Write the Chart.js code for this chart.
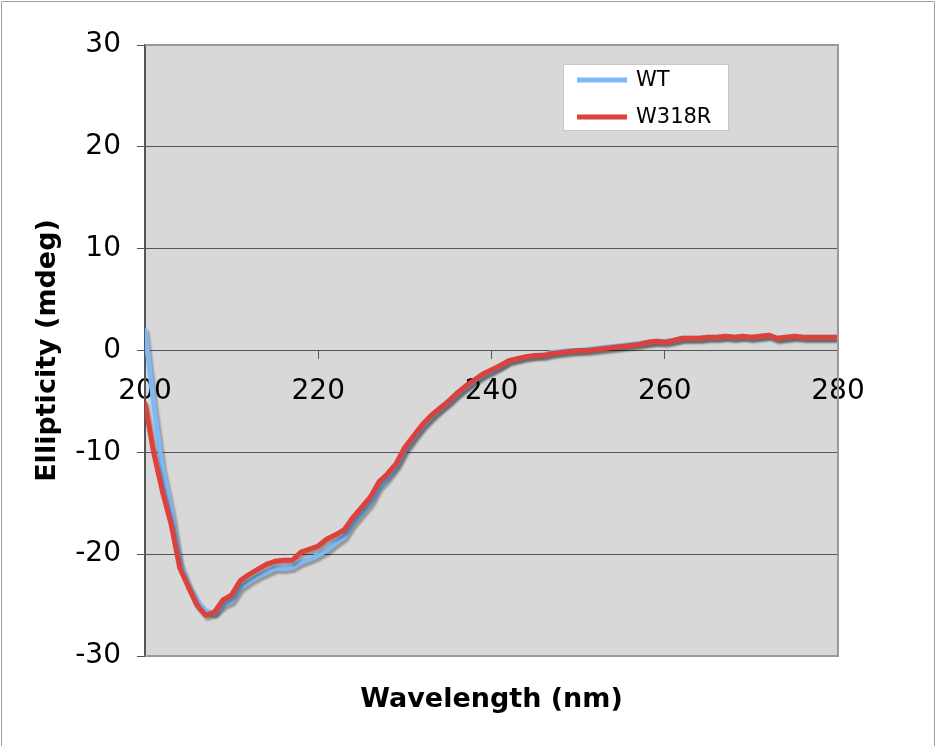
<!DOCTYPE html>
<html>
<head>
<meta charset="utf-8">
<script src="https://cdn.jsdelivr.net/npm/chart.js@4.4.1/dist/chart.umd.min.js"></script>
<style>
  body { margin: 0; background: #fff; }
  #cd { display: block; }
</style>
</head>
<body>
<canvas id="cd" width="936" height="746"></canvas>
<script>
// wavelengths, 1 nm steps
const wavelengths = [];
for (let w = 200; w <= 280; w++) wavelengths.push(w);

const wtValues = [
  2.0, -5.2, -11.5, -15.5, -20.8, -23.0, -24.6, -25.6, -25.8, -25.0,
  -24.6, -23.3, -22.7, -22.2, -21.8, -21.4, -21.4, -21.3, -20.8, -20.5,
  -20.1, -19.6, -18.9, -18.3, -17.0, -16.0, -15.0, -13.4, -12.5, -11.4,
  -9.8, -8.6, -7.5, -6.6, -5.8, -5.1, -4.3, -3.6, -3.0, -2.4,
  -2.0, -1.5, -1.0, -0.8, -0.6, -0.5, -0.4, -0.2, -0.1, 0.0,
  0.0, 0.1, 0.2, 0.3, 0.4, 0.5, 0.6, 0.7, 0.8, 0.9,
  0.9, 1.0, 1.2, 1.2, 1.2, 1.3, 1.3, 1.4, 1.3, 1.4,
  1.3, 1.4, 1.5, 1.2, 1.3, 1.4, 1.3, 1.3, 1.3, 1.3,
  1.3
];

const w318rValues = [
  -5.2, -10.0, -13.8, -17.0, -21.3, -23.2, -25.0, -26.0, -25.7, -24.5,
  -24.0, -22.6, -22.0, -21.5, -21.0, -20.7, -20.6, -20.6, -19.8, -19.5,
  -19.2, -18.5, -18.1, -17.6, -16.4, -15.4, -14.4, -12.9, -12.1, -11.1,
  -9.5, -8.4, -7.3, -6.4, -5.7, -5.0, -4.2, -3.5, -2.9, -2.3,
  -1.9, -1.5, -1.0, -0.8, -0.6, -0.5, -0.5, -0.3, -0.2, -0.1,
  0.0, 0.0, 0.1, 0.2, 0.3, 0.4, 0.5, 0.6, 0.8, 0.9,
  0.8, 1.0, 1.2, 1.2, 1.2, 1.3, 1.3, 1.4, 1.3, 1.4,
  1.3, 1.4, 1.5, 1.2, 1.3, 1.4, 1.3, 1.3, 1.3, 1.3,
  1.3
];

const seriesNames = ['WT', 'W318R'];
const seriesColors = ['rgb(125,185,245)', 'rgb(222,65,60)'];
const yTicks = [-30, -20, -10, 0, 10, 20, 30];
const xTicks = [200, 220, 240, 260, 280];

const toPoints = vals => vals.map((v, i) => ({ x: wavelengths[i], y: v }));

// grey plot area + outer frame
const frame = {
  id: 'frame',
  beforeDraw(chart) {
    const { ctx, chartArea: a } = chart;
    ctx.save();
    ctx.fillStyle = 'rgb(216,216,216)';
    ctx.fillRect(a.left, a.top, a.right - a.left, a.bottom - a.top);
    ctx.strokeStyle = '#a0a0a0';
    ctx.lineWidth = 1;
    ctx.beginPath();
    ctx.moveTo(1.5, 746);
    ctx.lineTo(1.5, 1.5);
    ctx.lineTo(934.5, 1.5);
    ctx.lineTo(934.5, 746);
    ctx.stroke();
    ctx.restore();
  },
  afterDatasetsDraw(chart) {
    const { ctx, chartArea: a } = chart;
    ctx.save();
    ctx.strokeStyle = '#9a9a9a';
    ctx.lineWidth = 2;
    ctx.beginPath();
    ctx.moveTo(a.left, a.top);
    ctx.lineTo(a.right, a.top);
    ctx.lineTo(a.right, a.bottom);
    ctx.lineTo(a.left, a.bottom);
    ctx.stroke();
    ctx.restore();
  }
};

// excel style drop shadow under each line
const shadow = {
  id: 'shadow',
  beforeDatasetDraw(chart) {
    const ctx = chart.ctx;
    ctx.save();
    ctx.shadowColor = 'rgba(0,0,0,0.3)';
    ctx.shadowOffsetX = 2;
    ctx.shadowOffsetY = 3;
    ctx.shadowBlur = 2;
  },
  afterDatasetDraw(chart) {
    chart.ctx.restore();
  }
};

// boxed legend inside the plot
const boxLegend = {
  id: 'boxLegend',
  afterDraw(chart) {
    const ctx = chart.ctx;
    const x = 563, y = 64, w = 165, h = 66;
    ctx.save();
    ctx.fillStyle = '#fff';
    ctx.fillRect(x, y, w, h);
    ctx.strokeStyle = '#c8c8c8';
    ctx.lineWidth = 1;
    ctx.strokeRect(x + 0.5, y + 0.5, w, h);
    ctx.font = '21px "DejaVu Sans"';
    ctx.textBaseline = 'middle';
    chart.data.datasets.forEach((ds, i) => {
      const ly = y + 16 + i * 37;
      ctx.strokeStyle = ds.borderColor;
      ctx.lineWidth = 5;
      ctx.beginPath();
      ctx.moveTo(x + 14, ly);
      ctx.lineTo(x + 64, ly);
      ctx.stroke();
      ctx.fillStyle = '#000';
      ctx.fillText(ds.label, x + 73, ly + 1);
    });
    ctx.restore();
  }
};

new Chart(document.getElementById('cd'), {
  type: 'line',
  data: {
    datasets: [
      { label: seriesNames[0], data: toPoints(wtValues), borderColor: seriesColors[0], order: 1 },
      { label: seriesNames[1], data: toPoints(w318rValues), borderColor: seriesColors[1], order: 0 }
    ]
  },
  options: {
    responsive: false,
    animation: false,
    layout: { padding: { left: 20, right: 98, top: 45, bottom: 2 } },
    elements: {
      line: { borderWidth: 5, tension: 0, fill: false, borderCapStyle: 'round', borderJoinStyle: 'round' },
      point: { radius: 0 }
    },
    plugins: {
      legend: { display: false },
      tooltip: { enabled: false },
      title: {
        display: true,
        position: 'bottom',
        fullSize: false,
        text: 'Wavelength (nm)',
        color: '#000',
        font: { family: 'DejaVu Sans', size: 27, weight: 'bold' },
        padding: { top: 28, bottom: 27.6 }
      }
    },
    scales: {
      x: {
        type: 'linear',
        position: { y: 0 },
        min: 200,
        max: 280,
        afterBuildTicks(s) { s.ticks = xTicks.map(v => ({ value: v })); },
        ticks: {
          autoSkip: false,
          maxRotation: 0,
          color: '#000',
          padding: 16,
          font: { family: 'DejaVu Sans', size: 28 }
        },
        grid: { drawOnChartArea: false, tickLength: 8, color: '#555', lineWidth: 1 },
        border: { color: '#555', width: 1 }
      },
      y: {
        min: -30,
        max: 30,
        afterBuildTicks(s) { s.ticks = yTicks.map(v => ({ value: v })); },
        afterFit(s) { s.width = 125; },
        ticks: {
          color: '#000',
          padding: 16,
          font: { family: 'DejaVu Sans', size: 28 }
        },
        grid: { color: '#555', lineWidth: 1, tickLength: 8 },
        border: { color: '#555', width: 2 },
        title: {
          display: true,
          text: 'Ellipticity (mdeg)',
          color: '#000',
          font: { family: 'DejaVu Sans', size: 27, weight: 'bold' },
          padding: { top: 12, bottom: 0 }
        }
      }
    }
  },
  plugins: [frame, shadow, boxLegend]
});
</script>
</body>
</html>
